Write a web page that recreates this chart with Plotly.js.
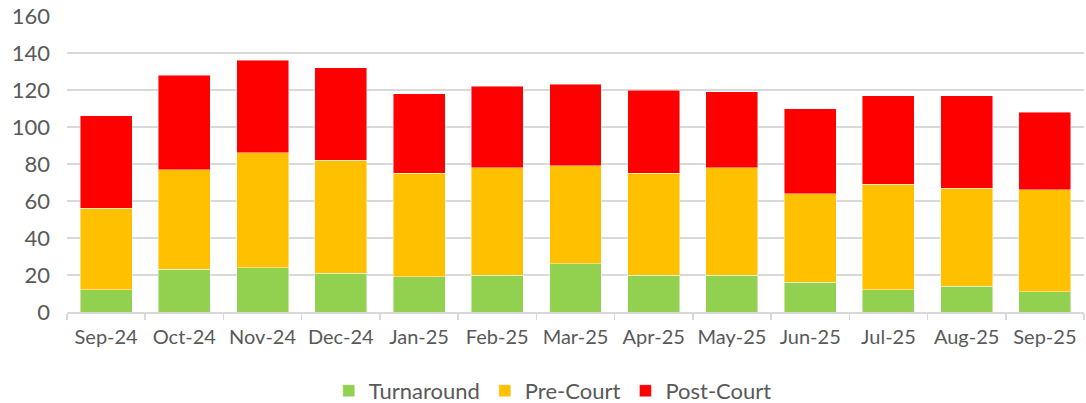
<!DOCTYPE html>
<html>
<head>
<meta charset="utf-8">
<script src="https://cdn.plot.ly/plotly-3.0.1.min.js"></script>
<style>html,body{margin:0;padding:0;background:#fff;}#chart{width:1086px;height:403px;}</style>
</head>
<body>
<div id="chart"></div>
<script>
const months = ["Sep-24","Oct-24","Nov-24","Dec-24","Jan-25","Feb-25","Mar-25","Apr-25","May-25","Jun-25","Jul-25","Aug-25","Sep-25"];
const turnaround = [12,23,24,21,19,20,26,20,20,16,12,14,11];
const preCourt   = [44,54,62,61,56,58,53,55,58,48,57,53,55];
const postCourt  = [50,51,50,50,43,44,44,45,41,46,48,50,42];
const yTicks = [0,20,40,60,80,100,120,140,160];

const font = {family: "Lato, 'Liberation Sans', sans-serif", size: 22, color: "#595959"};
function tr(name, vals, color){
  return {type:"bar", name:name, x:months, y:vals,
    marker:{color:color, line:{color:"rgba(255,255,255,0.6)", width:0.75}},
    hoverinfo:"skip"};
}
const data = [
  tr("Turnaround", turnaround, "#92D050"),
  tr("Pre-Court", preCourt, "#FFC000"),
  tr("Post-Court", postCourt, "#FF0000")
];
const layout = {
  width:1086, height:403,
  margin:{l:67, r:2, t:16, b:91, pad:0},
  paper_bgcolor:"#fff", plot_bgcolor:"#fff",
  font: font,
  barmode:"stack", bargap:0.336,
  showlegend:true,
  legend:{orientation:"h", traceorder:"normal", xref:"container", x:0.509, xanchor:"center",
    yref:"container", y:0.03, yanchor:"middle",
    font:{family:font.family, size:22, color:"#595959"}, itemwidth:30, tracegroupgap:0},
  xaxis:{type:"category", showgrid:false, showline:true, linecolor:"#D9D9D9", linewidth:1.5,
    ticks:"outside", tickson:"boundaries", ticklen:6, tickcolor:"#D9D9D9", tickwidth:1.5,
    tickangle:0, automargin:false,
    tickfont:{family:font.family, size:20, color:"#595959"}, ticklabelstandoff:6, fixedrange:true},
  yaxis:{range:[0,160], tickvals:yTicks, ticktext:yTicks.map(String), showgrid:true, gridcolor:"#D9D9D9", gridwidth:1.5,
    zeroline:false, showline:false, ticks:"", automargin:false, tickfont:{family:font.family, size:22, color:"#595959"},
    ticklabelstandoff:16, fixedrange:true}
};
Plotly.newPlot("chart", data, layout, {displayModeBar:false, staticPlot:true});
</script>
</body>
</html>
